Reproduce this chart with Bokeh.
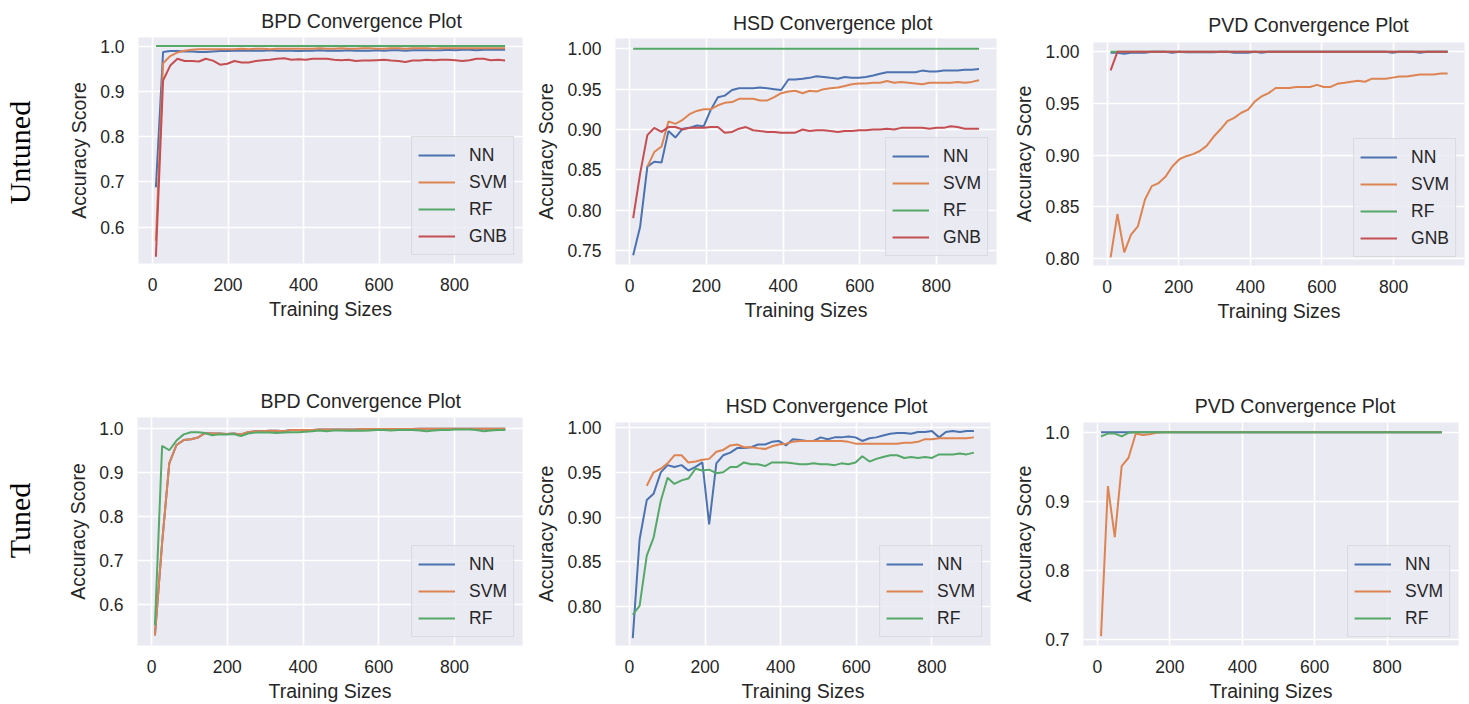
from math import pi
from bokeh.plotting import figure
from bokeh.layouts import row, column
from bokeh.models import Range1d, FixedTicker, NumeralTickFormatter, Legend, LegendItem
from bokeh.core.properties import value
from bokeh.embed import file_html
from bokeh.resources import INLINE

# ---------------- data ----------------
x_ticks = [0, 200, 400, 600, 800]
y_ticks_bpd = [0.6, 0.7, 0.8, 0.9, 1.0]
y_ticks_hsd_u = [0.75, 0.80, 0.85, 0.90, 0.95, 1.00]
y_ticks_hsd_t = [0.80, 0.85, 0.90, 0.95, 1.00]
y_ticks_pvd_u = [0.80, 0.85, 0.90, 0.95, 1.00]
y_ticks_pvd_t = [0.7, 0.8, 0.9, 1.0]

row_labels = ["Untuned", "Tuned"]
titles_untuned = ["BPD Convergence Plot", "HSD Convergence plot", "PVD Convergence Plot"]
titles_tuned = ["BPD Convergence Plot", "HSD Convergence Plot", "PVD Convergence Plot"]

bpd_sizes = [9, 28, 47, 66, 85, 104, 123, 141, 160, 179, 198, 217, 236, 255, 274, 292, 311, 330, 349, 368,
             387, 406, 424, 443, 462, 481, 500, 519, 538, 557, 575, 594, 613, 632, 651, 670, 689, 708, 726, 745,
             764, 783, 802, 821, 840, 858, 877, 896, 915, 934]
hsd_sizes = [9, 27, 46, 64, 83, 101, 119, 138, 156, 175, 193, 211, 230, 248, 267, 285, 303, 322, 340, 359,
             377, 395, 414, 432, 451, 469, 487, 506, 524, 543, 561, 579, 598, 616, 635, 653, 671, 690, 708, 727,
             745, 763, 782, 800, 819, 837, 855, 874, 892, 911]
pvd_sizes = [10, 29, 48, 67, 86, 106, 125, 144, 163, 182, 202, 221, 240, 259, 278, 298, 317, 336, 355, 375,
             394, 413, 432, 451, 471, 490, 509, 528, 547, 567, 586, 605, 624, 643, 663, 682, 701, 720, 740, 759,
             778, 797, 816, 836, 855, 874, 893, 912, 932, 951]

# --- BPD untuned
bpd_u_nn = [0.688, 0.987, 0.989, 0.989, 0.988, 0.988, 0.987, 0.987, 0.988, 0.989,
            0.989, 0.990, 0.990, 0.990, 0.990, 0.990, 0.991, 0.990, 0.990, 0.990,
            0.989, 0.990, 0.990, 0.991, 0.990, 0.990, 0.990, 0.991, 0.990, 0.990,
            0.990, 0.991, 0.990, 0.991, 0.991, 0.990, 0.991, 0.991, 0.991, 0.991,
            0.991, 0.992, 0.991, 0.992, 0.992, 0.991, 0.992, 0.992, 0.992, 0.992]
bpd_u_svm = [0.570, 0.962, 0.978, 0.986, 0.990, 0.992, 0.993, 0.993, 0.993, 0.993,
             0.993, 0.993, 0.994, 0.993, 0.994, 0.994, 0.993, 0.994, 0.994, 0.994,
             0.994, 0.994, 0.994, 0.995, 0.994, 0.994, 0.995, 0.994, 0.994, 0.995,
             0.995, 0.994, 0.994, 0.995, 0.995, 0.994, 0.995, 0.995, 0.995, 0.994,
             0.995, 0.995, 0.995, 0.995, 0.995, 0.995, 0.995, 0.995, 0.995, 0.995]
bpd_u_rf = [1.0] * 50
bpd_u_gnb = [0.535, 0.924, 0.957, 0.972, 0.967, 0.967, 0.966, 0.972, 0.968, 0.959,
             0.961, 0.967, 0.964, 0.964, 0.967, 0.969, 0.970, 0.972, 0.973, 0.970,
             0.971, 0.970, 0.972, 0.972, 0.972, 0.970, 0.969, 0.970, 0.967, 0.968,
             0.968, 0.969, 0.970, 0.968, 0.967, 0.965, 0.968, 0.968, 0.970, 0.969,
             0.970, 0.970, 0.969, 0.967, 0.969, 0.972, 0.972, 0.969, 0.970, 0.968]

# --- HSD untuned (SVM starts at the third training size)
hsd_u_nn = [0.744, 0.779, 0.854, 0.860, 0.859, 0.898, 0.890, 0.901, 0.902, 0.905,
            0.904, 0.924, 0.940, 0.942, 0.949, 0.951, 0.951, 0.951, 0.952, 0.951,
            0.950, 0.949, 0.962, 0.962, 0.963, 0.964, 0.966, 0.965, 0.964, 0.963,
            0.965, 0.964, 0.964, 0.965, 0.967, 0.969, 0.971, 0.971, 0.971, 0.971,
            0.971, 0.973, 0.972, 0.972, 0.973, 0.973, 0.973, 0.974, 0.974, 0.975]
hsd_u_svm = [0.854, 0.872, 0.879, 0.910, 0.907, 0.912, 0.919, 0.923,
             0.925, 0.925, 0.930, 0.933, 0.934, 0.938, 0.938, 0.938, 0.936, 0.936,
             0.940, 0.945, 0.947, 0.948, 0.945, 0.948, 0.947, 0.950, 0.951, 0.952,
             0.954, 0.956, 0.957, 0.957, 0.958, 0.958, 0.960, 0.958, 0.959, 0.958,
             0.957, 0.956, 0.958, 0.958, 0.958, 0.958, 0.959, 0.958, 0.959, 0.961]
hsd_u_rf = [1.0] * 50
hsd_u_gnb = [0.790, 0.845, 0.893, 0.902, 0.897, 0.903, 0.903, 0.900, 0.902, 0.902,
             0.902, 0.903, 0.903, 0.896, 0.897, 0.901, 0.903, 0.899, 0.898, 0.897,
             0.897, 0.896, 0.896, 0.896, 0.900, 0.898, 0.899, 0.899, 0.898, 0.897,
             0.898, 0.898, 0.899, 0.899, 0.900, 0.900, 0.901, 0.900, 0.902, 0.902,
             0.902, 0.902, 0.901, 0.902, 0.902, 0.904, 0.903, 0.901, 0.901, 0.901]

# --- PVD untuned
pvd_u_nn = [0.999, 0.999, 0.998, 0.999, 0.999, 0.999, 1.0, 1.0, 1.0, 0.999,
            1.0, 0.9995, 0.9995, 0.9995, 0.9995, 0.9995, 1.0, 1.0, 0.999, 0.999,
            0.999, 1.0, 0.999, 1.0, 1.0, 1.0, 1.0, 1.0, 1.0, 1.0,
            1.0, 1.0, 1.0, 1.0, 1.0, 1.0, 1.0, 1.0, 1.0, 1.0,
            1.0, 0.999, 1.0, 1.0, 1.0, 0.999, 1.0, 1.0, 1.0, 1.0]
pvd_u_svm = [0.801, 0.843, 0.806, 0.823, 0.831, 0.857, 0.870, 0.873, 0.879, 0.889,
             0.896, 0.899, 0.901, 0.904, 0.909, 0.918, 0.925, 0.933, 0.936, 0.941,
             0.944, 0.952, 0.957, 0.960, 0.965, 0.965, 0.965, 0.966, 0.966, 0.966,
             0.968, 0.966, 0.966, 0.969, 0.970, 0.971, 0.972, 0.971, 0.974, 0.974,
             0.974, 0.975, 0.976, 0.976, 0.977, 0.978, 0.978, 0.978, 0.979, 0.979]
pvd_u_rf = [1.0] * 50
pvd_u_gnb = [0.982] + [1.0] * 49

# --- BPD tuned (NN coincides with SVM and is hidden beneath it)
bpd_t_nn = [0.530, 0.740, 0.921, 0.962, 0.973, 0.975, 0.979, 0.989, 0.988, 0.988,
            0.987, 0.988, 0.986, 0.991, 0.993, 0.993, 0.994, 0.994, 0.993, 0.996,
            0.996, 0.996, 0.996, 0.997, 0.997, 0.997, 0.997, 0.997, 0.997, 0.998,
            0.998, 0.998, 0.998, 0.998, 0.998, 0.998, 0.998, 0.999, 0.999, 0.999,
            0.999, 0.999, 0.999, 0.999, 0.999, 0.999, 0.999, 0.999, 0.999, 0.999]
bpd_t_svm = [0.530, 0.740, 0.921, 0.962, 0.973, 0.975, 0.979, 0.989, 0.988, 0.988,
             0.987, 0.988, 0.986, 0.991, 0.993, 0.993, 0.994, 0.994, 0.993, 0.996,
             0.996, 0.996, 0.996, 0.997, 0.997, 0.997, 0.997, 0.997, 0.997, 0.998,
             0.998, 0.998, 0.998, 0.998, 0.998, 0.998, 0.998, 0.999, 0.999, 0.999,
             0.999, 0.999, 0.999, 0.999, 0.999, 0.999, 0.999, 0.999, 0.999, 0.999]
bpd_t_rf = [0.553, 0.960, 0.950, 0.972, 0.986, 0.991, 0.991, 0.989, 0.984, 0.986,
            0.986, 0.987, 0.982, 0.988, 0.990, 0.990, 0.990, 0.989, 0.990, 0.991,
            0.991, 0.992, 0.993, 0.995, 0.993, 0.995, 0.995, 0.994, 0.995, 0.994,
            0.995, 0.996, 0.996, 0.995, 0.996, 0.996, 0.996, 0.995, 0.993, 0.995,
            0.996, 0.996, 0.997, 0.997, 0.997, 0.996, 0.993, 0.995, 0.996, 0.996]

# --- HSD tuned (SVM starts at the third training size)
hsd_t_nn = [0.765, 0.875, 0.919, 0.926, 0.950, 0.958, 0.956, 0.958, 0.952, 0.956,
            0.961, 0.892, 0.960, 0.969, 0.972, 0.977, 0.977, 0.978, 0.981, 0.981,
            0.984, 0.985, 0.980, 0.987, 0.986, 0.985, 0.985, 0.989, 0.987, 0.989,
            0.989, 0.990, 0.989, 0.985, 0.988, 0.989, 0.991, 0.993, 0.994, 0.994,
            0.993, 0.995, 0.995, 0.996, 0.989, 0.995, 0.996, 0.995, 0.996, 0.996]
hsd_t_svm = [0.935, 0.950, 0.954, 0.960, 0.969, 0.969, 0.961, 0.962,
             0.964, 0.965, 0.973, 0.975, 0.980, 0.981, 0.978, 0.978, 0.977, 0.976,
             0.979, 0.981, 0.982, 0.984, 0.985, 0.985, 0.985, 0.985, 0.985, 0.985,
             0.985, 0.984, 0.982, 0.982, 0.982, 0.982, 0.982, 0.982, 0.982, 0.983,
             0.983, 0.984, 0.987, 0.987, 0.988, 0.988, 0.988, 0.988, 0.988, 0.989]
hsd_t_rf = [0.791, 0.801, 0.857, 0.877, 0.918, 0.944, 0.937, 0.941, 0.943, 0.954,
            0.952, 0.953, 0.949, 0.950, 0.956, 0.956, 0.961, 0.959, 0.959, 0.957,
            0.961, 0.961, 0.961, 0.960, 0.959, 0.959, 0.960, 0.959, 0.959, 0.958,
            0.960, 0.959, 0.961, 0.968, 0.962, 0.965, 0.967, 0.969, 0.969, 0.966,
            0.967, 0.966, 0.967, 0.966, 0.970, 0.970, 0.970, 0.971, 0.970, 0.972]

# --- PVD tuned
pvd_t_nn = [1.0] * 50
pvd_t_svm = [0.705, 0.922, 0.848, 0.951, 0.963, 0.998, 0.996, 0.997, 0.999] + [1.0] * 41
pvd_t_rf = [0.994, 0.998, 0.998, 0.994, 0.999] + [1.0] * 45

# ---------------- styling ----------------
FONT = "Liberation Sans"
INK = "#262626"
COLORS = {"NN": "#4C72B0", "SVM": "#DD8452", "RF": "#55A868", "GNB": "#C44E52"}


def blank(w, h):
    p = figure(width=w, height=h, toolbar_location=None, output_backend="svg",
               x_range=Range1d(0, w), y_range=Range1d(0, h), min_border=0,
               outline_line_color=None, x_axis_location=None, y_axis_location=None,
               background_fill_color="white", border_fill_color="white")
    p.grid.visible = False
    return p


def title_strip(text, w, h, cx, cy):
    p = blank(w, h)
    p.text(x=[cx], y=[cy], text=[text], text_align="center", text_baseline="middle",
           text_font=value(FONT), text_font_size=value("19.5px"), text_color=INK)
    return p


def panel(series, yticks, yfmt, xr, yr, w, h, left, right, top, bottom):
    p = figure(width=w, height=h, toolbar_location=None, output_backend="svg",
               x_range=Range1d(*xr), y_range=Range1d(*yr),
               min_border_left=left, min_border_right=right,
               min_border_top=top, min_border_bottom=bottom,
               background_fill_color="#EAEAF2", border_fill_color="white",
               outline_line_color=None)
    p.xaxis.ticker = FixedTicker(ticks=x_ticks)
    p.yaxis.ticker = FixedTicker(ticks=yticks)
    p.yaxis.formatter = NumeralTickFormatter(format=yfmt)
    p.xaxis.axis_label = "Training Sizes"
    p.yaxis.axis_label = "Accuracy Score"
    for ax in (p.xaxis, p.yaxis):
        ax.axis_line_color = None
        ax.major_tick_line_color = None
        ax.minor_tick_line_color = None
        ax.major_tick_out = 0
        ax.major_tick_in = 0
        ax.major_label_text_font = FONT
        ax.major_label_text_font_size = "17.5px"
        ax.major_label_text_color = INK
        ax.axis_label_text_font = FONT
        ax.axis_label_text_font_size = "19.5px"
        ax.axis_label_text_font_style = "normal"
        ax.axis_label_text_color = INK
    p.xaxis.major_label_standoff = 14
    p.xaxis.axis_label_standoff = 4
    p.yaxis.major_label_standoff = 14
    p.yaxis.axis_label_standoff = 7

    p.grid.grid_line_color = "white"
    p.grid.grid_line_width = 1.6

    items = []
    for name, xs, ys in series:
        r = p.line(xs, ys, line_color=COLORS[name], line_width=2.0)
        items.append(LegendItem(label=name, renderers=[r]))
    legend = Legend(items=items, location="bottom_right", margin=8, padding=6,
                    spacing=3, glyph_width=37, glyph_height=24, label_height=24,
                    label_standoff=14, label_text_font=FONT, label_text_font_size="17.5px",
                    label_text_color=INK, background_fill_color="#EAEAF2",
                    background_fill_alpha=0.8, border_line_color="#CCCCCC",
                    border_line_width=1)
    p.add_layout(legend)
    return p


def side_label(text, h, ypos):
    p = blank(50, h)
    p.text(x=[19], y=[ypos], text=[text], angle=pi / 2, text_align="center",
           text_baseline="middle", text_font=value("Liberation Serif"),
           text_font_size=value("30px"), text_color="black")
    return p


def cell(title, series, yticks, yfmt, xr, yr, w, th, ph, left, right, bottom, cy):
    frame_w = w - left - right
    t = title_strip(title, w, th, left + frame_w / 2, cy)
    p = panel(series, yticks, yfmt, xr, yr, w, ph, left, right, 4, bottom)
    return column(t, p)


c1 = cell(titles_untuned[0],
          [("NN", bpd_sizes, bpd_u_nn), ("SVM", bpd_sizes, bpd_u_svm),
           ("RF", bpd_sizes, bpd_u_rf), ("GNB", bpd_sizes, bpd_u_gnb)],
          y_ticks_bpd, "0.0", (-37.1, 980.1), (0.520, 1.019),
          482, 33, 317, 88, 10, 87, 12.5)
c2 = cell(titles_untuned[1],
          [("NN", hsd_sizes, hsd_u_nn), ("SVM", hsd_sizes[2:], hsd_u_svm),
           ("RF", hsd_sizes, hsd_u_rf), ("GNB", hsd_sizes, hsd_u_gnb)],
          y_ticks_hsd_u, "0.00", (-37.1, 956.7), (0.7326, 1.0128),
          478, 34, 316, 81, 14, 86, 11.7)
c3 = cell(titles_untuned[2],
          [("NN", pvd_sizes, pvd_u_nn), ("SVM", pvd_sizes, pvd_u_svm),
           ("RF", pvd_sizes, pvd_u_rf), ("GNB", pvd_sizes, pvd_u_gnb)],
          y_ticks_pvd_u, "0.00", (-37.8, 998.0), (0.7932, 1.009),
          459, 38, 312, 78, 5, 85, 13.3)
c4 = cell(titles_tuned[0],
          [("NN", bpd_sizes, bpd_t_nn), ("SVM", bpd_sizes, bpd_t_svm),
           ("RF", bpd_sizes, bpd_t_rf)],
          y_ticks_bpd, "0.0", (-37.0, 979.5), (0.507, 1.0243),
          482, 63, 291, 87, 10, 58, 12.3)
c5 = cell(titles_tuned[1],
          [("NN", hsd_sizes, hsd_t_nn), ("SVM", hsd_sizes[2:], hsd_t_svm),
           ("RF", hsd_sizes, hsd_t_rf)],
          y_ticks_hsd_t, "0.00", (-36.7, 955.0), (0.7567, 1.0056),
          478, 68, 286, 80, 20, 58, 12.3)
c6 = cell(titles_tuned[2],
          [("NN", pvd_sizes, pvd_t_nn), ("SVM", pvd_sizes, pvd_t_svm),
           ("RF", pvd_sizes, pvd_t_rf)],
          y_ticks_pvd_t, "0.0", (-38.4, 997.0), (0.6914, 1.014),
          459, 68, 286, 70, 11, 58, 12.7)

lab1 = side_label(row_labels[0], 350, 198)
lab2 = side_label(row_labels[1], 354, 184)

layout = column(row(lab1, c1, c2, c3), row(lab2, c4, c5, c6))

open("out.html", "w").write(file_html(layout, INLINE, title="Convergence plots"))
